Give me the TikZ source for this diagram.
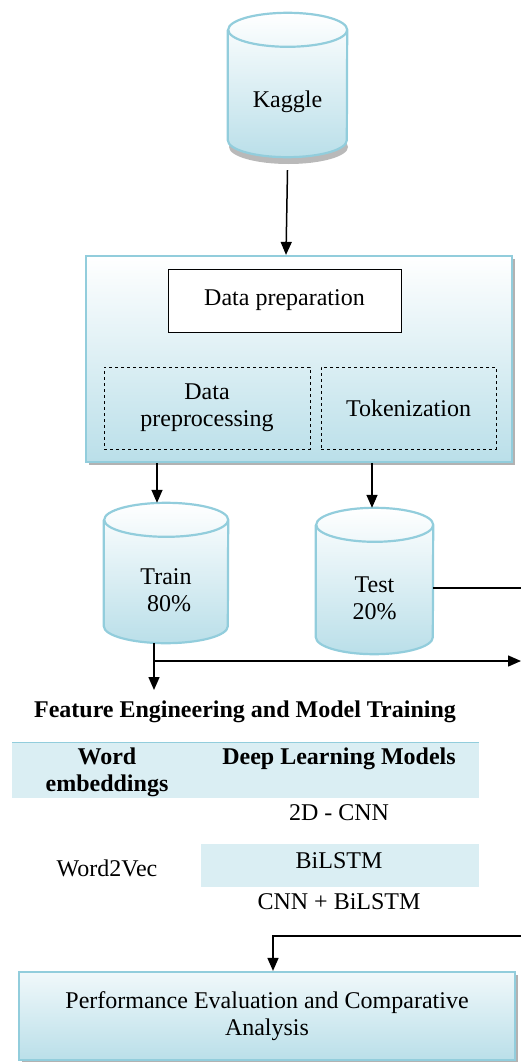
\documentclass[tikz,border=0pt]{standalone}
\usepackage{fontspec}
\setmainfont{Liberation Serif}
\usetikzlibrary{arrows.meta,shadows,calc}

\definecolor{lineblue}{RGB}{146,205,220}
\definecolor{shadeblue}{RGB}{186,223,233}
\definecolor{bandblue}{RGB}{218,238,243}

\tikzset{
	every node/.style={font=\fontsize{24}{27}\selectfont},
	panel/.style={rectangle, draw=lineblue, line width=2.2pt, top color=white, bottom color=shadeblue,
		drop shadow={shadow xshift=3pt, shadow yshift=-3pt, fill=gray!60, opacity=1}},
	stage/.style={rectangle, draw=black, line width=0.8pt, fill=white},
	substage/.style={rectangle, draw=black, line width=0.8pt, dashed, align=center},
	band/.style={rectangle, fill=bandblue, inner sep=0pt},
	cell/.style={align=center, inner sep=0pt},
	arr/.style={-{Triangle[length=13pt,width=11pt]}, line width=1.5pt}
}

% drum: name, x, y, width, height, text
\newcommand\drum[6]{%
	\node[rectangle, minimum width=#4pt, minimum height=#5pt, inner sep=0pt] (#1) at (#2,#3) {};
	\shade[top color=white, bottom color=shadeblue]
		($(#1.north west)+(0,17)$) -- ($(#1.south west)+(0,-17)$)
		arc[start angle=180, end angle=360, x radius=#4pt/2, y radius=17pt]
		-- ($(#1.north east)+(0,17)$)
		arc[start angle=0, end angle=180, x radius=#4pt/2, y radius=17pt] -- cycle;
	\draw[lineblue, line width=2.2pt]
		($(#1.north west)+(0,17)$) -- ($(#1.south west)+(0,-17)$)
		arc[start angle=180, end angle=360, x radius=#4pt/2, y radius=17pt]
		-- ($(#1.north east)+(0,17)$)
		arc[start angle=0, end angle=360, x radius=#4pt/2, y radius=17pt];
	\node[cell] (#1txt) at ([yshift=-17pt]#1.center) {#6};
}

\begin{document}
\begin{tikzpicture}[x=1pt,y=-1pt]
	\useasboundingbox (0,0) rectangle (521,1062);

	% data source
	\fill[gray!55] (288.5,147) ellipse[x radius=59.5pt, y radius=17pt];
	\drum{kaggle}{287.5}{85}{119}{144}{Kaggle}

	% preparation stage
	\node[panel, minimum width=426pt, minimum height=206pt] (prep) at (299,359) {};
	\node[stage, minimum width=233pt, minimum height=63pt] (dataprep) at (284.5,300.5) {Data preparation};
	\node[substage, minimum width=206pt, minimum height=82pt] (preproc) at (207,408) {Data\\preprocessing};
	\node[substage, minimum width=175pt, minimum height=82pt] (token) at (408.5,408) {Tokenization};

	% split
	\drum{train}{166}{573}{124}{140}{Train\\ \ 80\%}
	\drum{test}{374.5}{581}{117}{146}{Test\\20\%}

	% feature engineering and models
	\node[font=\fontsize{24}{27}\selectfont\bfseries] (fetitle) at (245,712) {Feature Engineering and Model Training};
	\draw[lineblue, line width=2.5pt] (12,743) -- (479,743);
	\node[band, minimum width=467pt, minimum height=55pt] (head) at (245.5,770.5) {};
	\node[cell, font=\fontsize{24}{27}\selectfont\bfseries] (embhead) at (107,772) {Word\\embeddings};
	\node[cell, font=\fontsize{24}{27}\selectfont\bfseries] (dlhead) at (339,759) {Deep Learning Models};
	\node[cell] (cnn) at (339,813) {2D - CNN};
	\node[band, minimum width=278pt, minimum height=43pt] (bilstm) at (340,865.5) {};
	\node[cell] at (339,861) {BiLSTM};
	\node[cell] (wvec) at (107,868) {Word2Vec};
	\node[cell] (hybrid) at (339,902) {CNN + BiLSTM};

	% evaluation
	\node[panel, top color=bandblue!40, minimum width=496pt, minimum height=88pt, align=center]
		(perf) at (267,1016) {Performance Evaluation and Comparative\\Analysis};

	\coordinate (testout) at (521,588);
	\coordinate (trainout) at (521,661);
	\coordinate (evalin) at (521,936);
	\coordinate (ftop) at (154,690);

	\draw[arr] ([yshift=-13pt]kaggle.south) -- ([xshift=-13pt]prep.north);
	\draw[arr] ([xshift=-9pt]train.north |- prep.south) -- ([xshift=-9pt]train.north);
	\draw[arr] ([xshift=-2.5pt]test.north |- prep.south) -- ([xshift=-2.5pt]test.north);
	\draw[line width=1.5pt] (test.east |- testout) -- (testout);
	\draw[arr] ([xshift=-12pt]train.south) -- (ftop);
	\draw[arr] (ftop |- trainout) -- (trainout);
	\draw[arr] (evalin) -| ([xshift=6pt]perf.north);
\end{tikzpicture}
\end{document}
